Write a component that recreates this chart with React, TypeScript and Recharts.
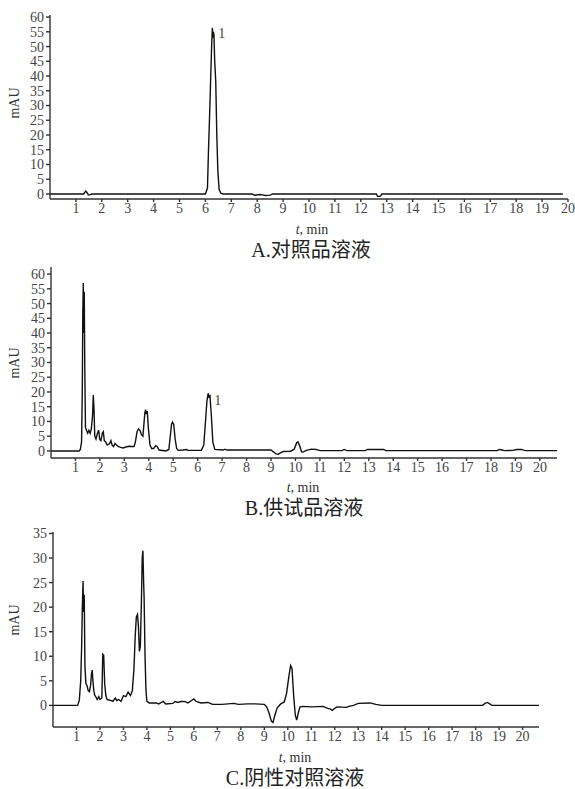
import React from 'react';
import { LineChart, Line, XAxis, YAxis, ReferenceDot } from 'recharts';

// A: reference solution
const A_TIME = [0, 1.3, 1.38, 1.42, 1.48, 1.55, 1.62, 6.0, 6.08, 6.12, 6.16, 6.2, 6.24, 6.27, 6.29, 6.31, 6.33, 6.36, 6.4, 6.44, 6.48, 6.53, 6.6, 6.7, 7.8, 7.9, 8.1, 8.2, 8.3, 8.5, 8.6, 12.6, 12.65, 12.75, 12.82, 19.8];
const A_MAU = [0, 0, 1.0, 0.6, -0.3, -0.2, 0, 0, 2, 15, 26, 38, 50, 56.4, 53, 55, 54, 45, 38, 20, 8, 1.5, 0.2, 0, 0, -0.4, -0.2, -0.3, -0.5, -0.4, 0, 0, -0.8, -0.8, 0, 0];

// B: test solution
const B_TIME = [0, 1.15, 1.2, 1.25, 1.28, 1.3, 1.32, 1.34, 1.36, 1.38, 1.41, 1.45, 1.5, 1.55, 1.6, 1.65, 1.7, 1.73, 1.76, 1.79, 1.84, 1.9, 1.95, 1.99, 2.04, 2.1, 2.14, 2.18, 2.24, 2.3, 2.4, 2.45, 2.5, 2.56, 2.62, 2.68, 2.75, 2.85, 2.95, 3.1, 3.2, 3.3, 3.4, 3.45, 3.52, 3.58, 3.64, 3.7, 3.76, 3.8, 3.84, 3.87, 3.9, 3.94, 3.98, 4.05, 4.12, 4.2, 4.28, 4.34, 4.42, 4.7, 4.82, 4.88, 4.93, 4.97, 5.02, 5.08, 5.14, 5.2, 5.4, 5.55, 5.6, 6.15, 6.25, 6.32, 6.38, 6.43, 6.47, 6.5, 6.56, 6.62, 6.7, 7.05, 7.12, 7.2, 9.0, 9.1, 9.2, 9.3, 9.4, 9.5, 9.8, 9.95, 10.05, 10.1, 10.17, 10.25, 10.3, 10.45, 10.65, 10.85, 11.0, 11.9, 12.0, 12.1, 12.85, 12.95, 13.6, 13.7, 18.25, 18.35, 18.45, 18.55, 18.9, 19.05, 19.25, 19.4, 20.7];
const B_MAU = [0, 0, 0.5, 3, 20, 46, 57, 40, 54, 30, 8, 7, 6, 7, 6, 7.5, 12, 19, 14, 5, 4, 6, 7, 4, 3.5, 6, 6.5, 3.5, 3, 2, 2.5, 3.5, 2, 1.5, 2.5, 2, 1.5, 1.2, 1.0, 1.4, 1.6, 1.5, 1.5, 3, 6.5, 7.5, 7, 5.5, 5, 9, 13, 14, 12.5, 13.5, 8, 2, 0.8, 0.8, 1.8, 1.5, 0.3, 0, 0.5, 5, 9, 9.8, 9, 4, 0.8, 0.2, 0.3, 0.5, 0.2, 0.2, 2, 10, 17, 19.5, 18, 19, 12, 3, 0.5, 0.3, 0.6, 0.3, 0.3, -0.3, -1.0, -1.1, -0.6, -0.2, -0.1, 0.6, 2.8, 3.1, 1.8, -0.3, -0.4, 0.2, 0.6, 0.5, 0.1, 0.1, 0.5, 0.1, 0.1, 0.5, 0.5, 0.1, 0.1, 0.5, 0.3, 0.1, 0.2, 0.5, 0.5, 0.1, 0.1];

// C: negative control
const C_TIME = [0, 1.05, 1.12, 1.18, 1.22, 1.25, 1.28, 1.3, 1.33, 1.36, 1.4, 1.45, 1.5, 1.55, 1.6, 1.64, 1.67, 1.7, 1.74, 1.78, 1.82, 1.88, 1.95, 2.0, 2.08, 2.12, 2.16, 2.2, 2.25, 2.3, 2.45, 2.55, 2.65, 2.72, 2.8, 2.9, 3.0, 3.1, 3.2, 3.3, 3.38, 3.45, 3.5, 3.55, 3.6, 3.64, 3.68, 3.72, 3.76, 3.8, 3.83, 3.86, 3.88, 3.92, 3.96, 4.0, 4.1, 4.4, 4.5, 4.7, 4.8, 5.1, 5.2, 5.3, 5.45, 5.6, 5.75, 5.9, 6.0, 6.1, 6.3, 6.6, 6.8, 7.2, 7.7, 7.9, 8.3, 8.6, 9.0, 9.1, 9.2, 9.3, 9.37, 9.45, 9.55, 9.7, 9.85, 9.95, 10.05, 10.12, 10.18, 10.25, 10.32, 10.38, 10.45, 10.52, 10.65, 11.0, 11.5, 11.7, 11.8, 11.9, 12.0, 12.1, 12.5, 12.6, 12.8, 13.0, 13.5, 13.75, 14.0, 18.3, 18.4, 18.5, 18.6, 18.7, 20.7];
const C_MAU = [0, 0, 1, 5, 12, 20, 25.3, 19, 22.5, 8, 4.5, 4, 3, 2.8, 4, 6.5, 7.2, 5, 3, 2, 1.8, 1.2, 1.8, 1.2, 1.5, 10.4, 10.2, 4.5, 2, 1.2, 1.0, 0.8, 1.5, 1, 1.2, 0.8, 2, 1.8, 2.7, 2, 3, 7.5, 14, 18, 18.5, 16, 11, 12, 20, 30, 31.5, 25, 22, 10, 3, 0.8, 0.5, 0.5, 0.3, 0.8, 0.3, 0.4, 0.8, 0.6, 0.8, 0.8, 0.5, 1.0, 1.3, 0.8, 0.5, 0.6, 0.2, 0.2, 0.4, 0.2, 0.3, 0.3, 0.2, -0.3, -1.5, -3.2, -3.5, -2, -0.5, 0.3, 0.7, 2.5, 6, 8.1, 7.5, 2, -2, -3, -1.5, -0.3, -0.2, -0.3, -0.2, -0.6, -0.7, -1, -0.6, -0.3, -0.4, -0.2, 0, 0.4, 0.5, 0.2, 0, 0, 0.4, 0.6, 0.3, 0, 0];

const X_TICKS = [1, 2, 3, 4, 5, 6, 7, 8, 9, 10, 11, 12, 13, 14, 15, 16, 17, 18, 19, 20];
const Y_TICKS_60 = [0, 5, 10, 15, 20, 25, 30, 35, 40, 45, 50, 55, 60];
const Y_TICKS_35 = [0, 5, 10, 15, 20, 25, 30, 35];

// peak "1" annotation (t, mAU)
const A_PEAK_LABEL = [6.63, 54.5];
const B_PEAK_LABEL = [6.82, 17.2];

const toRows = (time: number[], mau: number[]) => time.map((t, i) => ({ t, mAU: mau[i] }));

const SERIF = '"Liberation Serif", "DejaVu Serif", serif';
const CJK = '"Liberation Serif", "Noto Sans CJK SC", serif';
const tickStyle = { fill: '#444', fontSize: 14, fontFamily: SERIF, style: { fontFamily: SERIF } };

interface PanelProps {
    rows: { t: number; mAU: number }[];
    top: number;
    height: number;
    plot: { left: number; right: number; top: number; bottom: number };
    xMax: number;
    yDomain: [number, number];
    yTicks: number[];
    peakLabel?: number[];
}

// label "1" next to the target peak
const PeakNumber = (props: any) => {
    const vb = props.viewBox || {};
    const cx = vb.x + (vb.width || 0) / 2;
    const cy = vb.y + (vb.height || 0) / 2;
    return (
        <text x={cx} y={cy} textAnchor="middle" dominantBaseline="central" fill="#444" fontSize={14} fontFamily={SERIF}>
            1
        </text>
    );
};

const Chromatogram: React.FC<PanelProps> = ({ rows, top, height, plot, xMax, yDomain, yTicks, peakLabel }) => {
    const yAxisWidth = 40;
    const xAxisHeight = 30;
    return (
        <div style={{ position: 'absolute', left: 0, top, fontFamily: SERIF }}>
            <LineChart
                width={575}
                height={height}
                data={rows}
                style={{ fontFamily: SERIF }}
                margin={{
                    top: plot.top,
                    right: 575 - plot.right,
                    left: plot.left - yAxisWidth,
                    bottom: height - plot.bottom - xAxisHeight
                }}
            >
                <XAxis
                    type="number"
                    dataKey="t"
                    domain={[0, xMax]}
                    allowDataOverflow
                    ticks={X_TICKS}
                    interval={0}
                    height={xAxisHeight}
                    tickSize={3}
                    tickMargin={1}
                    stroke="#333"
                    strokeWidth={1.4}
                    tick={tickStyle}
                />
                <YAxis
                    type="number"
                    domain={yDomain}
                    allowDataOverflow
                    ticks={yTicks}
                    interval={0}
                    width={yAxisWidth}
                    tickSize={4}
                    tickMargin={2}
                    stroke="#333"
                    strokeWidth={1.4}
                    tick={tickStyle}
                />
                <Line
                    type="linear"
                    dataKey="mAU"
                    stroke="#111"
                    strokeWidth={1.4}
                    dot={false}
                    isAnimationActive={false}
                />
                {peakLabel && (
                    <ReferenceDot
                        x={peakLabel[0]}
                        y={peakLabel[1]}
                        r={0}
                        stroke="none"
                        label={<PeakNumber />}
                    />
                )}
            </LineChart>
        </div>
    );
};

const textAt = (x: number, y: number, extra: React.CSSProperties = {}): React.CSSProperties => ({
    position: 'absolute',
    left: x,
    top: y,
    transform: 'translate(-50%, -50%)',
    whiteSpace: 'nowrap',
    lineHeight: 1,
    ...extra
});

const YLabel = ({ x, y }: { x: number; y: number }) => (
    <div style={textAt(x, y, { transform: 'translate(-50%, -50%) rotate(-90deg)', fontSize: 14, fontFamily: SERIF, color: '#333' })}>mAU</div>
);

const XLabel = ({ x, y }: { x: number; y: number }) => (
    <div style={textAt(x, y, { fontSize: 14, fontFamily: SERIF, color: '#333' })}>
        <i>t</i>, min
    </div>
);

const Title = ({ x, y, text }: { x: number; y: number; text: string }) => (
    <div style={textAt(x, y, { fontSize: 20, fontFamily: CJK, color: '#222' })}>{text}</div>
);

export default function App() {
    return (
        <div style={{ position: 'absolute', left: 0, top: 0, width: 575, height: 789, background: '#fff', overflow: 'hidden' }}>
            <Chromatogram
                rows={toRows(A_TIME, A_MAU)}
                top={0}
                height={240}
                plot={{ left: 50, right: 568, top: 15, bottom: 199 }}
                xMax={20}
                yDomain={[-1.7, 60.7]}
                yTicks={Y_TICKS_60}
                peakLabel={A_PEAK_LABEL}
            />
            <YLabel x={15} y={103} />
            <XLabel x={312} y={230} />
            <Title x={311} y={250} text="A.对照品溶液" />

            <Chromatogram
                rows={toRows(B_TIME, B_MAU)}
                top={260}
                height={240}
                plot={{ left: 51, right: 557, top: 7, bottom: 198 }}
                xMax={20.7}
                yDomain={[-2.4, 62.4]}
                yTicks={Y_TICKS_60}
                peakLabel={B_PEAK_LABEL}
            />
            <YLabel x={15} y={363} />
            <XLabel x={303} y={488} />
            <Title x={304} y={508} text="B.供试品溶液" />

            <Chromatogram
                rows={toRows(C_TIME, C_MAU)}
                top={520}
                height={245}
                plot={{ left: 53, right: 539, top: 12, bottom: 207 }}
                xMax={20.7}
                yDomain={[-4.4, 35.3]}
                yTicks={Y_TICKS_35}
            />
            <YLabel x={15} y={620} />
            <XLabel x={295} y={758} />
            <Title x={295} y={778} text="C.阴性对照溶液" />
        </div>
    );
}
